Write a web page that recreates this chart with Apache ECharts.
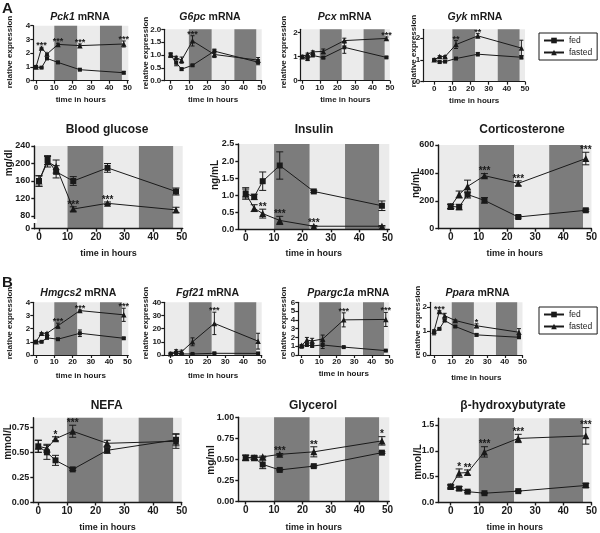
<!DOCTYPE html>
<html><head><meta charset="utf-8">
<script src="https://cdn.jsdelivr.net/npm/echarts@6/dist/echarts.min.js"></script>
<style>html,body{margin:0;padding:0;background:#fff}#c{width:600px;height:533px}</style>
</head><body><div id="c"></div>
<script>
// ---------- data ----------
const times = [0, 3, 6, 12, 24, 48];
const nightBands = [[10, 22.5], [35, 47]];
const xTicks = [0, 10, 20, 30, 40, 50];
const seriesNames = ['fed', 'fasted'];

const pck1Fed = [1.0, 0.95, 1.62, 1.33, 0.8, 0.58];
const pck1FedErr = [0.05, 0.04, 0.05, 0.08, 0.04, 0.08];
const pck1Fasted = [1.0, 2.38, 1.94, 2.64, 2.55, 2.67];
const pck1FastedErr = [0.05, 0.05, 0.05, 0.08, 0.12, 0.22];
const pck1Sig = ['', '***', '', '***', '***', '***'];
const pck1YTicks = [0, 1, 2, 3, 4];

const g6pcFed = [1.0, 0.7, 0.45, 0.6, 1.15, 0.72];
const g6pcFedErr = [0.08, 0.12, 0.04, 0.03, 0.08, 0.1];
const g6pcFasted = [1.0, 0.9, 0.8, 1.55, 1.02, 0.8];
const g6pcFastedErr = [0.08, 0.05, 0.12, 0.2, 0.12, 0.1];
const g6pcSig = ['', '', '', '***', '', ''];
const g6pcYTicks = [0, 0.5, 1, 1.5, 2];

const pcxFed = [1.0, 0.9, 1.05, 0.96, 1.39, 0.97];
const pcxFedErr = [0.04, 0.06, 0.03, 0.04, 0.25, 0.03];
const pcxFasted = [1.0, 1.1, 1.2, 1.22, 1.67, 1.76];
const pcxFastedErr = [0.04, 0.05, 0.04, 0.1, 0.1, 0.06];
const pcxSig = ['', '', '', '', '', '***'];
const pcxYTicks = [0, 1, 2];

const gykFed = [1.0, 0.9, 0.92, 1.06, 1.26, 1.12];
const gykFedErr = [0.03, 0.04, 0.03, 0.03, 0.08, 0.08];
const gykFasted = [1.0, 1.15, 1.15, 1.7, 2.1, 1.54];
const gykFastedErr = [0.03, 0.04, 0.04, 0.18, 0.1, 0.36];
const gykSig = ['', '', '', '**', '**', ''];
const gykYTicks = [0, 1, 2];

const glucoseFed = [160, 208, 181, 160, 190, 136];
const glucoseFedErr = [12, 10, 14, 10, 10, 8];
const glucoseFasted = [160, 204, 193, 96, 109, 94];
const glucoseFastedErr = [12, 12, 15, 5, 3, 6];
const glucoseSig = ['', '', '', '***', '***', ''];
const glucoseYTicks = [51, 80, 120, 160, 200, 240];

const insulinFed = [1.05, 0.95, 1.41, 1.87, 1.11, 0.69];
const insulinFedErr = [0.17, 0.08, 0.27, 0.4, 0.03, 0.14];
const insulinFasted = [1.05, 0.62, 0.46, 0.26, 0.09, 0.09];
const insulinFastedErr = [0.13, 0.1, 0.13, 0.12, 0.02, 0.02];
const insulinSig = ['', '', '**', '***', '***', ''];
const insulinYTicks = [0, 0.5, 1, 1.5, 2, 2.5];

const corticoFed = [160, 155, 245, 203, 84, 132];
const corticoFedErr = [15, 20, 25, 20, 8, 8];
const corticoFasted = [160, 245, 303, 380, 325, 503];
const corticoFastedErr = [15, 25, 45, 15, 18, 45];
const corticoSig = ['', '', '', '***', '***', '***'];
const corticoYTicks = [0, 200, 400, 600];

const hmgcs2Fed = [1.0, 1.0, 1.3, 1.2, 1.65, 1.27];
const hmgcs2FedErr = [0.04, 0.04, 0.05, 0.05, 0.25, 0.06];
const hmgcs2Fasted = [1.0, 1.65, 1.65, 2.22, 3.37, 3.05];
const hmgcs2FastedErr = [0.04, 0.05, 0.06, 0.2, 0.05, 0.5];
const hmgcs2Sig = ['', '', '', '***', '***', '***'];
const hmgcs2YTicks = [0, 1, 2, 3, 4];

const fgf21Fed = [1.0, 1.5, 0.8, 0.8, 1.3, 1.2];
const fgf21FedErr = [0.3, 0.5, 0.3, 0.2, 0.4, 0.3];
const fgf21Fasted = [1.0, 3.0, 2.5, 10.0, 24.0, 10.5];
const fgf21FastedErr = [0.3, 1.0, 1.2, 3.0, 8.5, 6.0];
const fgf21Sig = ['', '', '', '', '***', ''];
const fgf21YTicks = [0, 10, 20, 30, 40];

const ppargc1aFed = [0.95, 1.14, 1.03, 1.14, 0.9, 0.5];
const ppargc1aFedErr = [0.15, 0.1, 0.1, 0.4, 0.05, 0.05];
const ppargc1aFasted = [1.1, 1.7, 1.6, 1.82, 4.0, 4.05];
const ppargc1aFastedErr = [0.1, 0.3, 0.3, 0.45, 0.8, 0.8];
const ppargc1aSig = ['', '', '', '', '***', '***'];
const ppargc1aYTicks = [0, 1, 2, 3, 4, 5, 6];

const pparaFed = [0.94, 1.09, 1.44, 1.19, 0.84, 0.74];
const pparaFedErr = [0.1, 0.03, 0.05, 0.03, 0.05, 0.05];
const pparaFasted = [1.0, 1.82, 1.64, 1.44, 1.22, 0.95];
const pparaFastedErr = [0.05, 0.03, 0.1, 0.03, 0.08, 0.15];
const pparaSig = ['', '***', '', '', '*', ''];
const pparaYTicks = [0, 1, 2];

const nefaFed = [0.56, 0.5, 0.42, 0.33, 0.52, 0.625];
const nefaFedErr = [0.06, 0.07, 0.05, 0.01, 0.03, 0.06];
const nefaFasted = [0.56, 0.54, 0.635, 0.71, 0.59, 0.61];
const nefaFastedErr = [0.06, 0.04, 0.02, 0.06, 0.03, 0.07];
const nefaSig = ['', '', '*', '***', '', ''];
const nefaYTicks = [0, 0.25, 0.5, 0.75];

const glycerolFed = [0.52, 0.52, 0.44, 0.375, 0.42, 0.58];
const glycerolFedErr = [0.03, 0.02, 0.05, 0.01, 0.01, 0.01];
const glycerolFasted = [0.52, 0.52, 0.53, 0.56, 0.59, 0.72];
const glycerolFastedErr = [0.03, 0.02, 0.01, 0.01, 0.06, 0.05];
const glycerolSig = ['', '', '', '***', '**', '*'];
const glycerolYTicks = [0, 0.25, 0.5, 0.75, 1];

const bhbFed = [0.31, 0.27, 0.21, 0.18, 0.22, 0.33];
const bhbFedErr = [0.03, 0.04, 0.02, 0.01, 0.01, 0.04];
const bhbFasted = [0.31, 0.57, 0.58, 0.98, 1.24, 1.29];
const bhbFastedErr = [0.03, 0.08, 0.05, 0.1, 0.08, 0.16];
const bhbSig = ['', '*', '**', '***', '***', '***'];
const bhbYTicks = [0, 0.5, 1, 1.5];

// ---------- layout ----------
const FONT = '"Liberation Sans", Arial, Helvetica, sans-serif';
const INK = '#1a1a1a';
const SMALL = {xTickFont: 8, yTickFont: 8, xNameFont: 8, labelMargin: 3, sq: 4, tri: 5.5, cap: 4, starFont: 9, titleFont: 10.5, yNameFont: 8, lineW: 1.2};
const BIG = {xTickFont: 10, yTickFont: 9, xNameFont: 9, labelMargin: 4, sq: 6, tri: 7, cap: 7, starFont: 10, titleFont: 12, yNameFont: 10, lineW: 1.4};
const f1 = v => v.toFixed(1), f2 = v => v.toFixed(2);

const panels = [
  {title: '{i|Pck1} mRNA', fed: pck1Fed, fedErr: pck1FedErr, fasted: pck1Fasted, fastedErr: pck1FastedErr, sig: pck1Sig, yTicks: pck1YTicks,
   s: SMALL, left: 33.3, top: 25.7, width: 95, height: 55, xMin: -1.5, xMax: 50.5, yMin: 0, yMax: 4, xNameGap: 19.5,
   titleX: 80, titleY: 17, yName: 'relative expression', yNameX: 10, yNameY: 52},
  {title: '{i|G6pc} mRNA', fed: g6pcFed, fedErr: g6pcFedErr, fasted: g6pcFasted, fastedErr: g6pcFastedErr, sig: g6pcSig, yTicks: g6pcYTicks, yFmt: f1,
   s: SMALL, left: 164.3, top: 29.3, width: 97.4, height: 51.4, xMin: -3.5, xMax: 50, yMin: 0, yMax: 2, xNameGap: 19.5,
   titleX: 210, titleY: 17, yName: 'relative expression', yNameX: 146, yNameY: 53},
  {title: '{i|Pcx} mRNA', fed: pcxFed, fedErr: pcxFedErr, fasted: pcxFasted, fastedErr: pcxFastedErr, sig: pcxSig, yTicks: pcxYTicks,
   s: SMALL, left: 300.7, top: 29.3, width: 89.2, height: 51.4, xMin: -0.9, xMax: 50, yMin: 0, yMax: 2.14, xNameGap: 19.5,
   titleX: 344.7, titleY: 17, yName: 'relative expression', yNameX: 284, yNameY: 52},
  {title: '{i|Gyk} mRNA', fed: gykFed, fedErr: gykFedErr, fasted: gykFasted, fastedErr: gykFastedErr, sig: gykSig, yTicks: gykYTicks,
   s: SMALL, left: 423.3, top: 29.3, width: 101.7, height: 52.4, xMin: -6, xMax: 50, yMin: 0, yMax: 2.4, xNameGap: 19,
   titleX: 475, titleY: 17, yName: 'relative expression', yNameX: 413.5, yNameY: 51},

  {title: 'Blood glucose', fed: glucoseFed, fedErr: glucoseFedErr, fasted: glucoseFasted, fastedErr: glucoseFastedErr, sig: glucoseSig, yTicks: glucoseYTicks,
   yFmt: v => (v === glucoseYTicks[0] ? '0' : String(v)),
   s: BIG, left: 34.3, top: 146, width: 148.4, height: 82.7, xMin: -1.65, xMax: 50.35, yMin: 51, yMax: 240, xNameGap: 25.3,
   titleX: 107, titleY: 130, yName: 'mg/dl', yNameX: 9, yNameY: 163},
  {title: 'Insulin', fed: insulinFed, fedErr: insulinFedErr, fasted: insulinFasted, fastedErr: insulinFastedErr, sig: insulinSig, yTicks: insulinYTicks, yFmt: f1,
   s: BIG, left: 238.3, top: 144, width: 151, height: 85.3, xMin: -2.6, xMax: 50.6, yMin: 0, yMax: 2.5, xNameGap: 24.7,
   titleX: 314, titleY: 130, yName: 'ng/mL', yNameX: 215, yNameY: 175},
  {title: 'Corticosterone', fed: corticoFed, fedErr: corticoFedErr, fasted: corticoFasted, fastedErr: corticoFastedErr, sig: corticoSig, yTicks: corticoYTicks,
   s: BIG, left: 438.3, top: 145, width: 154.3, height: 83.7, xMin: -4.4, xMax: 50, yMin: 0, yMax: 600, xNameGap: 25.3,
   titleX: 522, titleY: 130, yName: 'ng/mL', yNameX: 416, yNameY: 183},

  {title: '{i|Hmgcs2} mRNA', fed: hmgcs2Fed, fedErr: hmgcs2FedErr, fasted: hmgcs2Fasted, fastedErr: hmgcs2FastedErr, sig: hmgcs2Sig, yTicks: hmgcs2YTicks,
   s: SMALL, left: 33.3, top: 302.3, width: 95, height: 52.7, xMin: -1.5, xMax: 50.5, yMin: 0, yMax: 4, xNameGap: 21,
   titleX: 78.3, titleY: 292.7, yName: 'relative expression', yNameX: 10, yNameY: 323},
  {title: '{i|Fgf21} mRNA', fed: fgf21Fed, fedErr: fgf21FedErr, fasted: fgf21Fasted, fastedErr: fgf21FastedErr, sig: fgf21Sig, yTicks: fgf21YTicks,
   s: SMALL, left: 164.3, top: 302.3, width: 97.4, height: 52.7, xMin: -3.5, xMax: 50, yMin: 0, yMax: 40, xNameGap: 21,
   titleX: 207.5, titleY: 292.7, yName: 'relative expression', yNameX: 146, yNameY: 323},
  {title: '{i|Ppargc1a} mRNA', fed: ppargc1aFed, fedErr: ppargc1aFedErr, fasted: ppargc1aFasted, fastedErr: ppargc1aFastedErr, sig: ppargc1aSig, yTicks: ppargc1aYTicks,
   s: SMALL, left: 298.3, top: 302.3, width: 91, height: 52.7, xMin: -1.9, xMax: 50, yMin: 0, yMax: 6, xNameGap: 19,
   titleX: 348.3, titleY: 292.7, yName: 'relative expression', yNameX: 284, yNameY: 323},
  {title: '{i|Ppara} mRNA', fed: pparaFed, fedErr: pparaFedErr, fasted: pparaFasted, fastedErr: pparaFastedErr, sig: pparaSig, yTicks: pparaYTicks,
   s: SMALL, left: 430, top: 302.3, width: 92.5, height: 52.7, xMin: -2.3, xMax: 50, yMin: 0, yMax: 2.2, xNameGap: 22.5,
   titleX: 477.5, titleY: 292.7, yName: 'relative expression', yNameX: 417.5, yNameY: 322},

  {title: 'NEFA', fed: nefaFed, fedErr: nefaFedErr, fasted: nefaFasted, fastedErr: nefaFastedErr, sig: nefaSig, yTicks: nefaYTicks, yFmt: f2,
   s: BIG, left: 33.3, top: 417.7, width: 148.4, height: 85.6, xMin: -1.74, xMax: 50, yMin: 0, yMax: 0.845, xNameGap: 25,
   titleX: 106.7, titleY: 406, yName: 'mmol/L', yNameX: 8, yNameY: 442},
  {title: 'Glycerol', fed: glycerolFed, fedErr: glycerolFedErr, fasted: glycerolFasted, fastedErr: glycerolFastedErr, sig: glycerolSig, yTicks: glycerolYTicks, yFmt: f2,
   s: BIG, left: 238.3, top: 417.3, width: 151, height: 85, xMin: -2.6, xMax: 50.6, yMin: 0, yMax: 1, xNameGap: 26,
   titleX: 313, titleY: 406, yName: 'mg/ml', yNameX: 211, yNameY: 460},
  {title: 'β-hydroxybutyrate', fed: bhbFed, fedErr: bhbFedErr, fasted: bhbFasted, fastedErr: bhbFastedErr, sig: bhbSig, yTicks: bhbYTicks, yFmt: f1,
   s: BIG, left: 438.3, top: 418.3, width: 154.3, height: 85, xMin: -4.4, xMax: 50, yMin: 0, yMax: 1.63, xNameGap: 25,
   titleX: 513, titleY: 406, yName: 'mmol/L', yNameX: 418, yNameY: 462}
];

// ---------- build ----------
const grids = [], xAxes = [], yAxes = [], series = [], graphics = [];
const axisLineStyle = w => ({color: INK, width: w});

panels.forEach((p, i) => {
  const s = p.s;
  grids.push({left: p.left, top: p.top, width: p.width, height: p.height, show: true,
    backgroundColor: '#ebebeb', borderWidth: 0});
  xAxes.push({type: 'value', gridIndex: i, min: p.xMin, max: p.xMax, z: 10,
    axisLine: {show: true, onZero: false, lineStyle: axisLineStyle(s.lineW)},
    axisTick: {show: true, customValues: xTicks, length: 3, lineStyle: axisLineStyle(s.lineW)},
    axisLabel: {customValues: xTicks, fontSize: s.xTickFont, fontWeight: 'bold', color: INK, fontFamily: FONT, margin: s.labelMargin},
    splitLine: {show: false},
    name: 'time in hours', nameLocation: 'middle', nameGap: p.xNameGap,
    nameTextStyle: {fontSize: s.xNameFont, fontWeight: 'bold', color: INK, fontFamily: FONT, verticalAlign: 'middle'}});
  yAxes.push({type: 'value', gridIndex: i, min: p.yMin, max: p.yMax, z: 10,
    axisLine: {show: true, onZero: false, lineStyle: axisLineStyle(s.lineW)},
    axisTick: {show: true, customValues: p.yTicks, length: 3, lineStyle: axisLineStyle(s.lineW)},
    axisLabel: {customValues: p.yTicks, formatter: p.yFmt || (v => String(v)), fontSize: s.yTickFont, fontWeight: 'bold',
      color: INK, fontFamily: FONT, margin: s.labelMargin},
    splitLine: {show: false}});

  const common = {xAxisIndex: i, yAxisIndex: i, animation: false, silent: true};
  series.push(Object.assign({type: 'line', name: seriesNames[0], data: times.map((t, j) => [t, p.fed[j]]),
    symbol: 'rect', symbolSize: s.sq, lineStyle: {color: INK, width: 1}, itemStyle: {color: INK}, z: 4,
    markArea: {silent: true, itemStyle: {color: '#7c7c7c'}, data: nightBands.map(b => [{xAxis: b[0]}, {xAxis: b[1]}])}}, common));
  series.push(Object.assign({type: 'line', name: seriesNames[1], data: times.map((t, j) => [t, p.fasted[j]]),
    symbol: 'triangle', symbolSize: s.tri, lineStyle: {color: INK, width: 1}, itemStyle: {color: INK}, z: 4}, common));

  const errData = [];
  times.forEach((t, j) => {
    if (p.fedErr[j] > 0) errData.push([t, p.fed[j], p.fedErr[j]]);
    if (p.fastedErr[j] > 0) errData.push([t, p.fasted[j], p.fastedErr[j]]);
  });
  series.push(Object.assign({type: 'custom', z: 5, data: errData, encode: {x: 0, y: 1},
    renderItem: (params, api) => {
      const x = api.value(0), y = api.value(1), e = api.value(2);
      const a = api.coord([x, y + e]), b = api.coord([x, y - e]);
      const st = {stroke: INK, lineWidth: 1};
      const h = s.cap / 2;
      return {type: 'group', children: [
        {type: 'line', shape: {x1: a[0], y1: a[1], x2: b[0], y2: b[1]}, style: st},
        {type: 'line', shape: {x1: a[0] - h, y1: a[1], x2: a[0] + h, y2: a[1]}, style: st},
        {type: 'line', shape: {x1: b[0] - h, y1: b[1], x2: b[0] + h, y2: b[1]}, style: st}]};
    }}, common));

  const starItems = [];
  times.forEach((t, j) => {
    if (p.sig[j]) starItems.push({x: t, y: p.fasted[j] + p.fastedErr[j], s: p.sig[j]});
  });
  series.push(Object.assign({type: 'custom', z: 6, data: starItems.map(it => [it.x, it.y]), encode: {x: 0, y: 1},
    renderItem: (params, api) => {
      const it = starItems[params.dataIndex];
      const c = api.coord([it.x, it.y]);
      return {type: 'text', x: c[0], y: c[1] + 3, style: {text: it.s, fontSize: s.starFont, fontWeight: 'bold',
        fontFamily: FONT, fill: INK, align: 'center', verticalAlign: 'bottom'}};
    }}, common));

  graphics.push({type: 'text', x: p.titleX, y: p.titleY, style: {text: p.title, fontSize: s.titleFont, fontWeight: 'bold',
    fontFamily: FONT, fill: INK, align: 'center', verticalAlign: 'middle',
    rich: {i: {fontStyle: 'italic', fontWeight: 'bold', fontSize: s.titleFont, fontFamily: FONT, fill: INK}}}});
  graphics.push({type: 'text', x: p.yNameX, y: p.yNameY, rotation: Math.PI / 2, style: {text: p.yName, fontSize: s.yNameFont,
    fontWeight: 'bold', fontFamily: FONT, fill: INK, align: 'center', verticalAlign: 'middle'}});
});

graphics.push({type: 'text', x: 2, y: 1, style: {text: 'A', fontSize: 15, fontWeight: 'bold', fontFamily: FONT, fill: INK}});
graphics.push({type: 'text', x: 2, y: 275, style: {text: 'B', fontSize: 15, fontWeight: 'bold', fontFamily: FONT, fill: INK}});
// axis break on glucose y axis
graphics.push({type: 'rect', shape: {x: 32, y: 219, width: 5, height: 4}, style: {fill: '#fff'}, z: 100});

const legendBase = {data: seriesNames, orient: 'vertical', left: 539, selectedMode: false, itemWidth: 20, itemHeight: 7,
  itemGap: 3, padding: [3, 5, 3, 4], borderColor: INK, borderWidth: 1, borderRadius: 0,
  textStyle: {fontSize: 8.5, fontFamily: FONT, color: INK}};

const chart = echarts.init(document.getElementById('c'), null, {renderer: 'canvas'});
chart.setOption({
  animation: false,
  backgroundColor: '#fff',
  grid: grids, xAxis: xAxes, yAxis: yAxes, series: series,
  legend: [Object.assign({top: 33}, legendBase), Object.assign({top: 307}, legendBase)],
  graphic: graphics
});
</script></body></html>
